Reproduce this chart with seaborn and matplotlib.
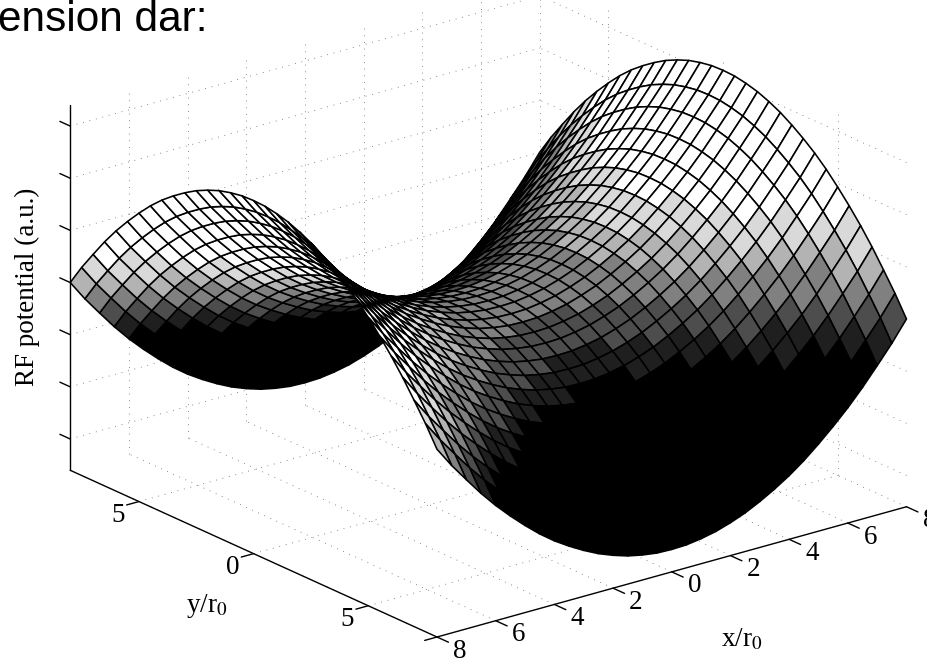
import numpy as np
import matplotlib
matplotlib.use('Agg')
import matplotlib.pyplot as plt
import seaborn as sns
from mpl_toolkits.mplot3d import proj3d

# values
grid_x = [-8, -7.5, -7, -6.5, -6, -5.5, -5, -4.5, -4, -3.5, -3, -2.5, -2, -1.5, -1, -0.5, 0,
          0.5, 1, 1.5, 2, 2.5, 3, 3.5, 4, 4.5, 5, 5.5, 6, 6.5, 7, 7.5, 8]
grid_y = grid_x
# height of the surface along one edge, a.u. above the saddle point
profile = [3.17, 2.78, 2.43, 2.09, 1.78, 1.50, 1.24, 1.00, 0.79, 0.61, 0.45, 0.31, 0.20, 0.11, 0.05, 0.01, 0,
           0.01, 0.05, 0.11, 0.20, 0.31, 0.45, 0.61, 0.79, 1.00, 1.24, 1.50, 1.78, 2.09, 2.43, 2.78, 3.17]
x_ticks = [-8, -6, -4, -2, 0, 2, 4, 6, 8]
x_labels = ['8', '6', '4', '2', '0', '2', '4', '6', '8']
y_ticks = [5, 0, -5]
y_labels = ['5', '0', '5']
z_ticks = [-3, -2, -1, 0, 1, 2, 3]
z_floor, z_top = -3.6, 3.4
band_edges = [-0.85, -0.5, -0.1, 0.3, 0.65, 1.05]
band_grays = [0.0, 0.12, 0.3, 0.5, 0.7, 0.85, 1.0]

sns.set_style('white')
plt.rcParams['mathtext.fontset'] = 'stix'
band_colors = sns.color_palette([str(g) for g in band_grays])

W, H = 928, 659
fig = plt.figure(figsize=(W / 100, H / 100), dpi=100)
ax = fig.add_axes([0, 0, 1, 1], projection='3d', proj_type='ortho')
ax.set_axis_off()
ax.computed_zorder = False
ax.patch.set_alpha(0)
ax.view_init(elev=20.8, azim=-128)
ax.set_box_aspect((595, 595, 390))
ax.set_xlim(-8, 8)
ax.set_ylim(-8, 8)
ax.set_zlim(z_floor, z_top)

X, Y = np.meshgrid(grid_x, grid_y)
xp = np.array(profile)
Z = xp[None, :] - xp[:, None]

# cell colours: bands in height, tilted a little along x like the original
cell_z = (Z[:-1, :-1] + Z[1:, 1:]) / 2
cell_x = (X[:-1, :-1] + X[1:, 1:]) / 2
bands = np.digitize(cell_z - 0.05 * cell_x, band_edges)
face = np.array([[tuple(band_colors[b]) + (1,) for b in row] for row in bands])

dot = dict(color='#666666', lw=0.6, ls=(0, (1, 7)), zorder=1)
for v in x_ticks:
    ax.plot([v, v], [8, 8], [z_floor, z_top], **dot)
    ax.plot([v, v], [-8, 8], [z_floor, z_floor], **dot)
for v in y_ticks:
    ax.plot([8, 8], [v, v], [z_floor, z_top], **dot)
    ax.plot([-8, 8], [v, v], [z_floor, z_floor], **dot)
for v in z_ticks:
    ax.plot([-8, 8], [8, 8], [v, v], **dot)
    ax.plot([8, 8], [-8, 8], [v, v], **dot)

ax.plot_surface(X, Y, Z, rstride=1, cstride=1, facecolors=face, edgecolor='black',
                linewidth=1.15, shade=False, antialiased=True, zorder=2)

axis = dict(color='black', lw=1.0, zorder=3)
ax.plot([-8, -8], [8, 8], [z_floor, z_top], **axis)
ax.plot([-8, -8], [8, -8], [z_floor, z_floor], **axis)
ax.plot([-8, 8], [-8, -8], [z_floor, z_floor], **axis)
for v in x_ticks:
    ax.plot([v, v], [-8, -8.5], [z_floor, z_floor], **axis)
for v in y_ticks + [-8]:
    ax.plot([-8, -8.42], [v, v], [z_floor, z_floor], **axis)
for v in z_ticks:
    ax.plot([-8, -8], [8, 8.45], [v, v], **axis)

# scale and shift the square axes so the floor corners land where they are in the picture
def to_px(px, py, pz=z_floor):
    return ax.transData.transform(proj3d.proj_transform(px, py, pz, ax.get_proj())[:2])

def set_box(side, cx, cy):
    ax.set_position([(cx - side / 2) / W, (cy - side / 2) / H, side / W, side / H])
    ax.apply_aspect()

side, cx, cy = 700.0, W / 2, H / 2
set_box(side, cx, cy)
front = np.array([437, H - 637.0])
right = np.array([906, H - 505.0])
d = np.linalg.norm(to_px(8, -8) - to_px(-8, -8))
side *= np.linalg.norm(right - front) / d
set_box(side, cx, cy)
shift = front - to_px(-8, -8)
cx += shift[0]
cy += shift[1]
set_box(side, cx, cy)

tick_font = dict(family='Liberation Serif', fontsize=19.5, ha='center', va='center', color='black')
for v, s in zip(x_ticks, x_labels):
    p = to_px(v, -9, z_floor - 0.07)
    fig.text(p[0] / W, p[1] / H, s, **tick_font)
for v, s in zip(y_ticks, y_labels):
    p = to_px(-8.72, v, z_floor - 0.15)
    fig.text(p[0] / W, p[1] / H, s, **tick_font)

lab = dict(family='Liberation Serif', fontsize=19.5, color='black')
fig.text(27 / W, 1 - 287 / H, 'RF potential (a.u.)', rotation=90, ha='center', va='center', **lab)
fig.text(207 / W, 1 - 606 / H, 'y/r$_0$', ha='center', va='center', **lab)
fig.text(742 / W, 1 - 640 / H, 'x/r$_0$', ha='center', va='center', **lab)
fig.text(-2 / W, 1 - 31 / H, 'ension dar:', family='Liberation Sans', fontsize=30.5, ha='left',
         va='baseline', color='black')

fig.savefig('out.png', dpi=100, facecolor='white')
